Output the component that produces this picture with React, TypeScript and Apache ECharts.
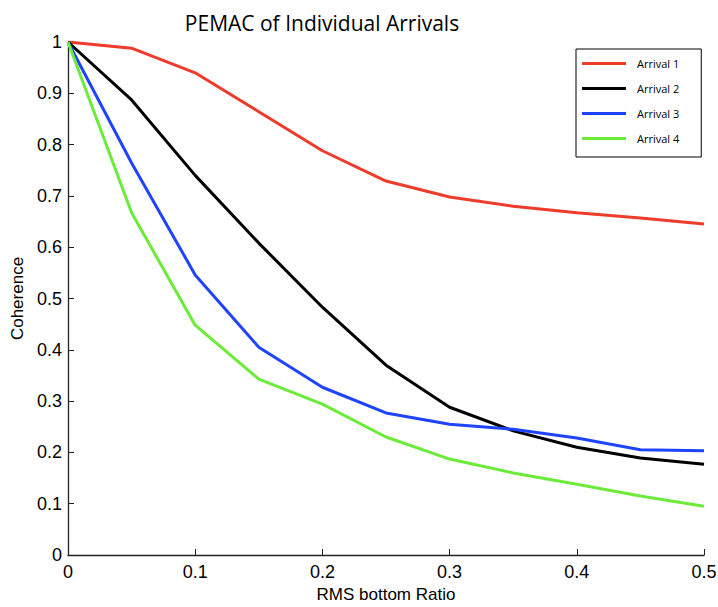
import React, { useEffect, useRef } from "react";
import * as echarts from "echarts";

const ratios = [0, 0.05, 0.1, 0.15, 0.2, 0.25, 0.3, 0.35, 0.4, 0.45, 0.5];
const arrival1 = [1, 0.988, 0.94, 0.864, 0.788, 0.729, 0.698, 0.68, 0.667, 0.657, 0.645];
const arrival2 = [1, 0.887, 0.74, 0.608, 0.483, 0.37, 0.288, 0.242, 0.21, 0.189, 0.177];
const arrival3 = [1, 0.764, 0.546, 0.405, 0.327, 0.277, 0.255, 0.245, 0.228, 0.205, 0.203];
const arrival4 = [1, 0.667, 0.448, 0.343, 0.294, 0.23, 0.187, 0.16, 0.138, 0.115, 0.095];
const seriesNames = ["Arrival 1", "Arrival 2", "Arrival 3", "Arrival 4"];
const seriesColors = ["#EE3B2B", "#000000", "#1F44FF", "#6CEB3A"];

export default function App() {
  const ref = useRef<HTMLDivElement>(null);
  useEffect(() => {
    if (!ref.current) return;
    const chart = echarts.init(ref.current, null, { renderer: "svg" });
    const all = [arrival1, arrival2, arrival3, arrival4];
    const axisLabel = {
      color: "#000",
      fontFamily: "Liberation Sans",
      fontSize: 18,
      formatter: (v: number) => String(Math.round(v * 10) / 10),
    };
    chart.setOption({
      animation: false,
      backgroundColor: "#fff",
      title: {
        text: "PEMAC of Individual Arrivals",
        left: 317,
        top: 7,
        textAlign: "center",
        textStyle: { fontFamily: "Open Sans", fontSize: 21, fontWeight: "normal", color: "#000" },
      },
      legend: {
        data: seriesNames,
        orient: "vertical",
        left: 576,
        top: 49,
        padding: [9, 22, 13, 6],
        itemWidth: 44,
        itemHeight: 3,
        itemGap: 14,
        icon: "rect",
        borderColor: "#000",
        borderWidth: 1,
        textStyle: { fontFamily: "Open Sans", fontSize: 11, color: "#000", padding: [0, 0, 0, 6] },
      },
      grid: { left: 68, right: 14, top: 42, bottom: 52, containLabel: false, outerBoundsMode: "none" },
      xAxis: {
        type: "value",
        min: 0,
        max: 0.5,
        interval: 0.1,
        name: "RMS bottom Ratio",
        nameLocation: "middle",
        nameGap: 29,
        nameTextStyle: { fontFamily: "Liberation Sans", fontSize: 17, color: "#000" },
        axisLine: { lineStyle: { color: "#222", width: 1.3 } },
        axisTick: { inside: true, length: 6, lineStyle: { color: "#222" } },
        axisLabel: { ...axisLabel, margin: 8 },
        splitLine: { show: false },
      },
      yAxis: {
        type: "value",
        min: 0,
        max: 1,
        interval: 0.1,
        name: "Coherence",
        nameLocation: "middle",
        nameGap: 40,
        nameTextStyle: { fontFamily: "Liberation Sans", fontSize: 17, color: "#000" },
        axisLine: { show: true, lineStyle: { color: "#222", width: 1.3 } },
        axisTick: { show: true, inside: true, length: 6, lineStyle: { color: "#222" } },
        axisLabel: { ...axisLabel, margin: 6 },
        splitLine: { show: false },
      },
      series: all.map((vals, i) => ({
        name: seriesNames[i],
        type: "line",
        data: ratios.map((r, j) => [r, vals[j]]),
        symbol: "none",
        lineStyle: { width: 3, color: seriesColors[i] },
        itemStyle: { color: seriesColors[i] },
      })),
    });
    return () => chart.dispose();
  }, []);
  return <div ref={ref} style={{ width: 718, height: 607, position: "absolute", left: 0, top: 0 }} />;
}
